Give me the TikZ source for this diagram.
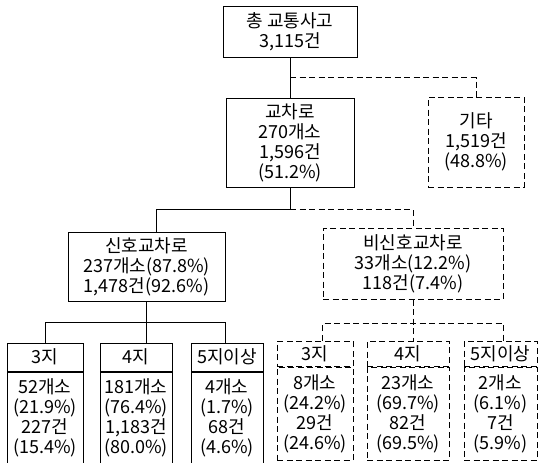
\documentclass[tikz,border=0pt]{standalone}
\usepackage{fontspec}
\setmainfont{Noto Sans CJK KR}
\usetikzlibrary{positioning}
\tikzset{
	box/.style={rectangle, draw=black, line width=1pt, align=center, inner sep=1pt, font=\fontsize{18}{20}\selectfont},
	dbox/.style={box, dash pattern=on 6pt off 3.5pt},
	head/.style={box, minimum height=28pt},
	body/.style={box, minimum height=91pt},
	dhead/.style={dbox, minimum height=25pt},
	dbody/.style={dbox, minimum height=93pt},
	link/.style={line width=1pt},
	dlink/.style={link, dash pattern=on 6pt off 3.5pt},
}

\begin{document}
\begin{tikzpicture}[x=1pt, y=-1pt]
		\useasboundingbox (0,0) rectangle (538,463);
		\node[box, minimum width=134pt, minimum height=51pt] (total) at (290,31.5) {총 교통사고\\3,115건};
		\node[box, minimum width=128pt, minimum height=89pt] (junc) at (290,142.5) {교차로\\270개소\\1,596건\\(51.2\%)};
		\node[dbox, minimum width=96pt, minimum height=90pt] (other) at (476,142) {기타\\1,519건\\(48.8\%)};
		\node[box, minimum width=157pt, minimum height=69pt] (sig) at (146.5,266.5) {신호교차로\\237개소(87.8\%)\\1,478건(92.6\%)};
		\node[dbox, minimum width=180pt, minimum height=71pt] (nonsig) at (413,263.5) {비신호교차로\\33개소(12.2\%)\\118건(7.4\%)};
		% signalised
		\node[head, minimum width=76pt] (s3h) at (45,357) {3지};
		\node[body, minimum width=76pt, below=0pt of s3h] (s3) {52개소\\(21.9\%)\\227건\\(15.4\%)};
		\node[head, minimum width=72pt] (s4h) at (136,357) {4지};
		\node[body, minimum width=72pt, below=0pt of s4h] (s4) {181개소\\(76.4\%)\\1,183건\\(80.0\%)};
		\node[head, minimum width=72pt] (s5h) at (227,357) {5지이상};
		\node[body, minimum width=72pt, below=0pt of s5h] (s5) {4개소\\(1.7\%)\\68건\\(4.6\%)};
		% non-signalised
		\node[dhead, minimum width=76pt] (n3h) at (315,353.5) {3지};
		\node[dbody, minimum width=76pt, below=0pt of n3h] (n3) {8개소\\(24.2\%)\\29건\\(24.6\%)};
		\node[dhead, minimum width=82pt] (n4h) at (408,353.5) {4지};
		\node[dbody, minimum width=82pt, below=0pt of n4h] (n4) {23개소\\(69.7\%)\\82건\\(69.5\%)};
		\node[dhead, minimum width=73pt] (n5h) at (500.5,353.5) {5지이상};
		\node[dbody, minimum width=73pt, below=0pt of n5h] (n5) {2개소\\(6.1\%)\\7건\\(5.9\%)};
		\coordinate (b1) at ([yshift=-20pt]total.south);
		\coordinate (b2) at ([yshift=-22pt]junc.south);
		\coordinate (b3) at ([yshift=-21pt]sig.south);
		\coordinate (b4) at ([yshift=-24pt]nonsig.south);
		\draw[link] (total) -- (junc);
		\draw[dlink] (b1) -| (other);
		\draw[link] (junc) -- (b2) -| ([xshift=10pt]sig.north);
		\draw[dlink] (b2) -| (nonsig);
		\draw[link] (sig) -- (sig |- s4h.north);
		\draw[link] (s3h) |- (b3) -| (s5h.north -| sig.east);
		\draw[dlink] (nonsig) -- (nonsig |- n4h.north);
		\draw[dlink] (n3h.north -| nonsig.west) |- (b4) -| (n5h.north -| nonsig.east);
	\end{tikzpicture}
\end{document}
